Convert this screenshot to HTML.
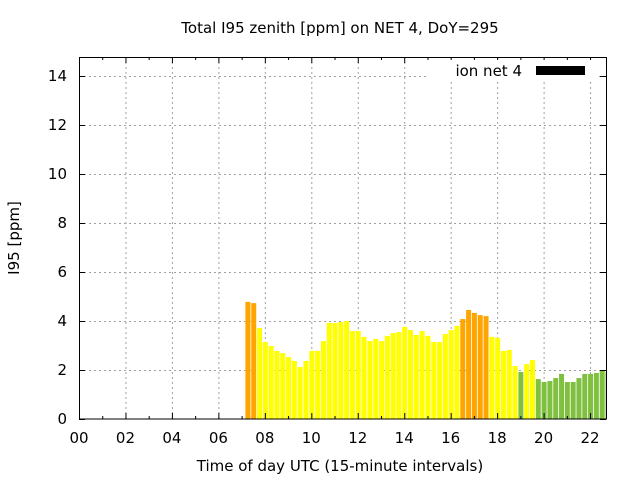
<!DOCTYPE html>
<html><head><meta charset="utf-8"><style>
body{margin:0;background:#fff;}
svg text{font-family:"DejaVu Sans","Liberation Sans",sans-serif;fill:#000;}
</style></head><body>
<svg id="c" width="640" height="480" xmlns="http://www.w3.org/2000/svg">
<text x="340" y="33" font-size="15" text-anchor="middle">Total I95 zenith [ppm] on NET 4, DoY=295</text>
<text x="340" y="471" font-size="15" text-anchor="middle">Time of day UTC (15-minute intervals)</text>
<text x="19" y="238" font-size="15" text-anchor="middle" transform="rotate(-90 19 238)">I95 [ppm]</text>
<g id="grid"></g><g id="bars"></g><g id="ticks"></g>
<rect x="79.5" y="57.5" width="527" height="361.5" fill="none" stroke="#000" stroke-width="1"/>
<rect x="426" y="60" width="170" height="22" fill="#fff"/>
<text x="522" y="76" font-size="15" text-anchor="end">ion net 4</text>
<rect x="536" y="66" width="49" height="9" fill="#000"/>
</svg>
<script>
const startHour = 7.25;
const values = [4.78,4.73,3.71,3.14,2.98,2.78,2.69,2.53,2.37,2.12,2.37,2.78,2.78,3.18,3.92,3.92,3.96,4.0,3.59,3.59,3.35,3.18,3.27,3.18,3.39,3.51,3.55,3.76,3.63,3.43,3.59,
3.39,3.14,3.14,3.47,3.63,3.80,4.08,4.45,4.33,4.24,4.2,3.35,3.31,2.78,2.82,2.16,1.92,2.24,2.41,1.63,1.51,1.55,1.67,1.84,1.51,1.51,1.67,1.84,1.84,1.88,1.96,1.92];
const xTicks = ["00","02","04","06","08","10","12","14","16","18","20","22"];
const yTicks = [0,2,4,6,8,10,12,14];
const NS="http://www.w3.org/2000/svg";
const X = h => 79 + h*23.23;
const Y = v => 419 - v*24.5;
const grid=document.getElementById('grid'), bars=document.getElementById('bars'), ticks=document.getElementById('ticks');
function mk(tag,attrs,parent){const e=document.createElementNS(NS,tag);for(const k in attrs)e.setAttribute(k,attrs[k]);parent.appendChild(e);return e;}
yTicks.forEach(v=>{
  if(v>0){const g=mk('line',{x1:79,x2:606,y1:Y(v)+0.5,y2:Y(v)+0.5,stroke:'#a0a0a0','stroke-dasharray':'2,3'},grid);
  
  }
  const t=mk('line',{x1:79,x2:85,y1:Y(v)+0.5,y2:Y(v)+0.5,stroke:'#000'},ticks);
  
  
  const t2=mk('line',{x1:600,x2:606,y1:Y(v)+0.5,y2:Y(v)+0.5,stroke:'#000'},ticks);
  
  
  const l=mk('text',{x:67,y:Y(v)+5,'font-size':15,'text-anchor':'end'},ticks);l.textContent=v;
  
  
});
for(let h=1;h<23;h+=2){
  const m=mk('line',{x1:X(h)+0.5,x2:X(h)+0.5,y1:416,y2:419,stroke:'#000'},ticks);
  
  
  const m2=mk('line',{x1:X(h)+0.5,x2:X(h)+0.5,y1:57,y2:60,stroke:'#000'},ticks);
  
  
}
xTicks.forEach((s,i)=>{
  const h=i*2;
  if(h>0){const g=mk('line',{x1:X(h)+0.5,x2:X(h)+0.5,y1:57,y2:419,stroke:'#a0a0a0','stroke-dasharray':'2,3'},grid);
  
  }
  const t=mk('line',{x1:X(h)+0.5,x2:X(h)+0.5,y1:413,y2:419,stroke:'#000'},ticks);
  
  
  const t3=mk('line',{x1:X(h)+0.5,x2:X(h)+0.5,y1:57,y2:63,stroke:'#000'},ticks);
  
  
  const l=mk('text',{x:X(h),y:443,'font-size':15,'text-anchor':'middle'},ticks);l.textContent=s;
  
  
});
values.forEach((v,i)=>{
  const h=startHour+i*0.25;
  const col = v>=4.05?'#ffa500':(v>=2?'#ffff00':'#80c040');
  let x0=X(h)-2, w=5;
  if(x0+w>606) w=Math.max(0,606-x0);
  const b=mk('rect',{x:x0,y:Y(v),width:w,height:419-Y(v),fill:col},bars);
  
  
});
</script>
</body></html>
